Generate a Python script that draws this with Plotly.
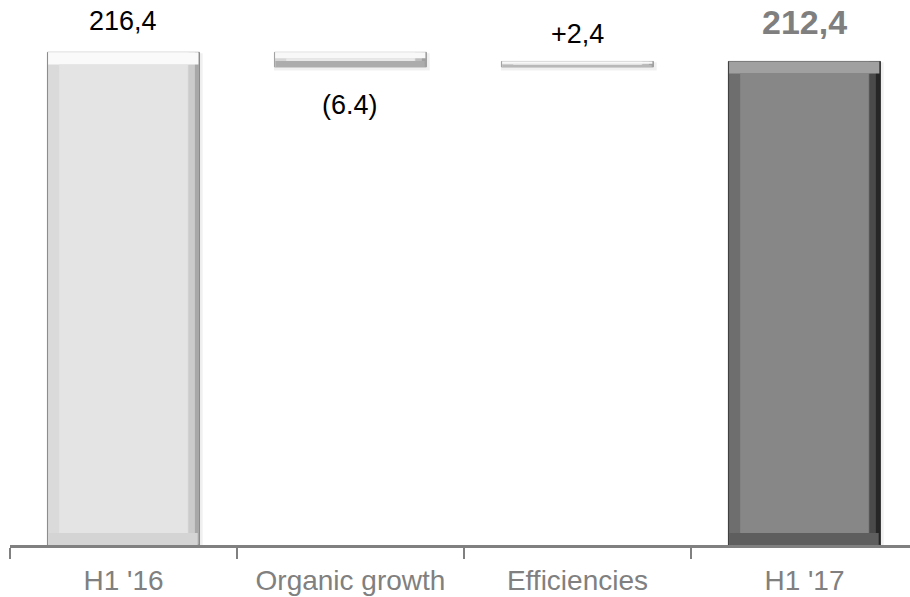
import plotly.graph_objects as go

categories = ["H1 '16", "Organic growth", "Efficiencies", "H1 '17"]
start_value = 216.4
changes = [-6.4, 2.4]
end_value = 212.4
value_labels = ["216,4", "(6.4)", "+2,4", "212,4"]

# bar bases / heights derived from the data
bases = [0]
heights = [start_value]
level = start_value
for c in changes:
    new = level + c
    bases.append(min(level, new))
    heights.append(abs(c))
    level = new
bases.append(0)
heights.append(end_value)
tops = [b + h for b, h in zip(bases, heights)]

# styling (bevelled look)
W = 0.67
HB = 0.052          # horizontal bevel (category units)
VB = 5.3            # vertical bevel (value units)
face = ["#e4e4e4", "#e8e8e8", "#e8e8e8", "#878787"]
top_c = ["#fafafa", "#f8f8f8", "#f8f8f8", "#a0a0a0"]
left_c = ["#dadada", "#d6d6d6", "#d6d6d6", "#6e6e6e"]
rmid_c = ["#cbcbcb", "#bdbdbd", "#bdbdbd", "#4a4a4a"]
right_c = ["#a8a8a8", "#a0a0a0", "#a0a0a0", "#262626"]
bottom_c = ["#d4d4d4", "#acacac", "#b8b8b8", "#5e5e5e"]
edge_c = ["#8a8a8a", "#a0a0a0", "#a0a0a0", "#3c3c3c"]

vb = [min(VB, h * 0.4) for h in heights]

fig = go.Figure()
common = dict(x=categories, hoverinfo="skip", showlegend=False)

# soft shadow
fig.add_trace(go.Bar(**common, y=[h + 1.2 for h in heights], base=[b - 1.6 for b in bases],
                     width=W + 0.016, offset=-W / 2 - 0.002,
                     marker=dict(color="rgba(0,0,0,0.06)", line=dict(width=0))))
# outer (darkest right side)
fig.add_trace(go.Bar(**common, y=heights, base=bases, width=W, offset=-W / 2,
                     marker=dict(color=right_c, line=dict(color=edge_c, width=1))))
# right side mid tone
fig.add_trace(go.Bar(**common, y=heights, base=bases, width=W - HB * 0.45, offset=-W / 2 + 0.003,
                     marker=dict(color=rmid_c, line=dict(width=0))))
# left side
fig.add_trace(go.Bar(**common, y=heights, base=bases, width=W - HB, offset=-W / 2 + 0.003,
                     marker=dict(color=left_c, line=dict(width=0))))
# bottom bevel
fig.add_trace(go.Bar(**common, y=vb, base=bases, width=W - 0.012, offset=-W / 2 + 0.004,
                     marker=dict(color=bottom_c, line=dict(width=0))))
# top bevel
fig.add_trace(go.Bar(**common, y=vb, base=[t - v for t, v in zip(tops, vb)],
                     width=W - 0.008, offset=-W / 2 + 0.003,
                     marker=dict(color=top_c, line=dict(width=0))))
# face
face_h = [max(h - 2 * v, 0) for h, v in zip(heights, vb)]
fig.add_trace(go.Bar(**common, y=face_h, base=[b + v for b, v in zip(bases, vb)],
                     width=W - 2 * HB, offset=-W / 2 + HB,
                     marker=dict(color=face, line=dict(width=0))))

# value labels
label_y = [tops[0], bases[1], tops[2], tops[3]]
shifts = [31, -38, 27.5, 39.5]
base_font = dict(family="Liberation Sans, Arial, sans-serif", size=27, color="#000000")
for i, cat in enumerate(categories):
    f = dict(base_font)
    txt = value_labels[i]
    if i == 3:
        f.update(size=34, color="#7f7f7f")
        txt = "<b>" + txt + "</b>"
    fig.add_annotation(x=cat, y=label_y[i], text=txt, showarrow=False,
                       yshift=shifts[i], font=f)

fig.update_layout(
    width=910, height=597,
    margin=dict(l=10, r=0, t=10, b=52),
    plot_bgcolor="white", paper_bgcolor="white",
    barmode="overlay",
    xaxis=dict(type="category", range=[-0.5, 3.465], tickson="boundaries",
               ticks="outside", ticklen=11, tickcolor="#808080", tickwidth=1.5,
               showline=True, linecolor="#808080", linewidth=3,
               ticklabelstandoff=8,
               tickfont=dict(family="Liberation Sans, Arial, sans-serif", size=28, color="#808080"),
               showgrid=False, fixedrange=True),
    yaxis=dict(range=[0, 235], visible=False, showgrid=False, zeroline=False, fixedrange=True),
)

fig.write_html("out.html", config={"displayModeBar": False, "staticPlot": True},
               post_script="document.body.style.margin='0';")
